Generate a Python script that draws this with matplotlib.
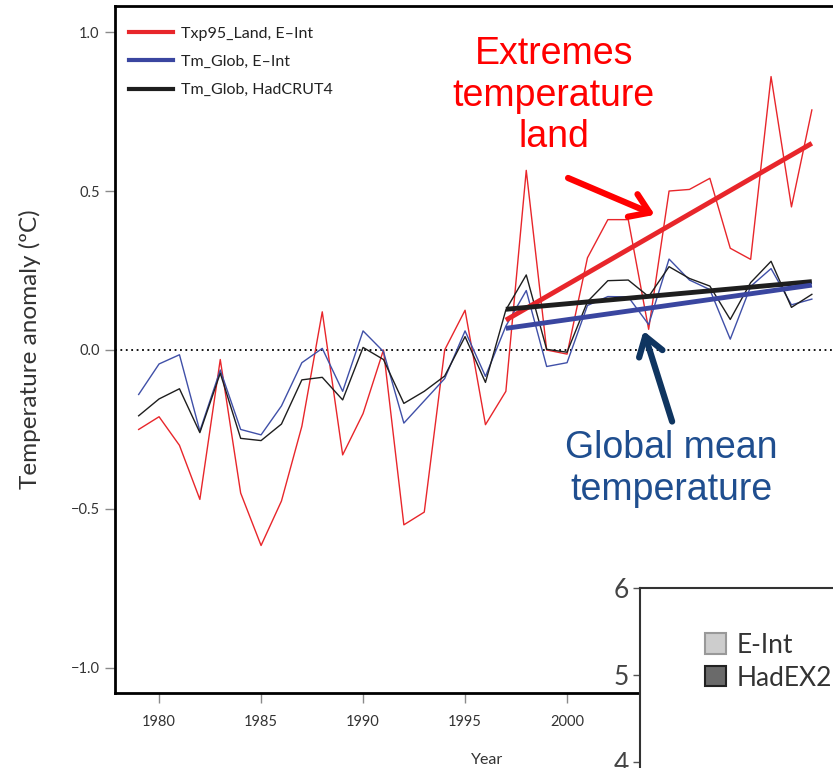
import numpy as np
import matplotlib
matplotlib.use("Agg")
import matplotlib.pyplot as plt
from matplotlib.lines import Line2D
from matplotlib.patches import Patch

# Anomalías de temperatura 1979-2012
years = list(range(1979, 2013))
txp95_land = [-0.25, -0.21, -0.30, -0.47, -0.03, -0.45, -0.615, -0.475, -0.24, 0.12,
              -0.33, -0.20, 0.00, -0.55, -0.51, 0.00, 0.125, -0.235, -0.13, 0.565,
              0.00, -0.013, 0.29, 0.41, 0.41, 0.065, 0.50, 0.505, 0.54, 0.32,
              0.285, 0.86, 0.45, 0.755]
tm_glob_eint = [-0.14, -0.044, -0.015, -0.255, -0.063, -0.25, -0.267, -0.176, -0.04, 0.005,
                -0.13, 0.06, -0.005, -0.23, -0.16, -0.09, 0.06, -0.083, 0.075, 0.187,
                -0.052, -0.04, 0.14, 0.168, 0.167, 0.08, 0.286, 0.22, 0.19, 0.034,
                0.20, 0.256, 0.142, 0.16]
tm_glob_hadcrut4 = [-0.207, -0.154, -0.122, -0.26, -0.073, -0.278, -0.285, -0.233, -0.094, -0.086,
                    -0.157, 0.008, -0.03, -0.168, -0.13, -0.082, 0.042, -0.102, 0.126, 0.236,
                    0.002, -0.007, 0.152, 0.218, 0.22, 0.168, 0.262, 0.225, 0.201, 0.096,
                    0.212, 0.279, 0.134, 0.175]

# Tendencias 1997-2012 (extremos de cada recta)
trend_years = [1997, 2012]
trend_land = [0.094, 0.65]
trend_eint = [0.068, 0.204]
trend_hadcrut = [0.128, 0.215]

legend_labels = ["Txp95_Land, E\u2013Int", "Tm_Glob, E\u2013Int", "Tm_Glob, HadCRUT4"]
inset_labels = ["E-Int", "HadEX2"]
inset_ticks = [4, 5, 6]

RED = "#e8262b"
BLUE = "#4050a8"
BLACK = "#1e1e1e"

plt.rcParams["font.family"] = ["Lato", "DejaVu Sans"]

fig = plt.figure(figsize=(8.33, 7.68), dpi=100)
W, H = 833, 768

def px_axes(left, top, right, bottom):
    return [left / W, 1 - bottom / H, (right - left) / W, (bottom - top) / H]

ax = fig.add_axes(px_axes(115, 6, 860, 693))
ax.plot(years, txp95_land, color=RED, lw=1.0)
ax.plot(years, tm_glob_eint, color=BLUE, lw=1.0)
ax.plot(years, tm_glob_hadcrut4, color=BLACK, lw=1.0)
ax.plot(trend_years, trend_land, color=RED, lw=3.5, solid_capstyle="butt")
ax.plot(trend_years, trend_hadcrut, color=BLACK, lw=3.5, solid_capstyle="butt")
ax.plot(trend_years, trend_eint, color="#3a46a0", lw=3.5, solid_capstyle="butt")
ax.axhline(0, color="black", lw=1.3, ls=(0, (1, 2)), zorder=1)

ax.set_xlim(1977.84, 2014.36)
ax.set_ylim(-1.079, 1.082)
ax.set_xticks(range(1980, 2015, 5))
ax.set_yticks([-1.0, -0.5, 0.0, 0.5, 1.0])
ax.set_yticklabels(["\u22121.0", "\u22120.5", "0.0", "0.5", "1.0"])
ax.tick_params(direction="out", length=7, width=1, color="#8a8a8a",
               labelsize=10.5, labelcolor="#333333", pad=4)
ax.tick_params(axis="x", pad=9)
for s in ax.spines.values():
    s.set_linewidth(2)
    s.set_color("black")
ax.set_xlabel("Year", fontsize=11.5, color="#333333", labelpad=17)
ax.set_ylabel("Temperature anomaly (\u00baC)", fontsize=17.5, color="#333333", labelpad=21)

handles = [Line2D([], [], color=RED, lw=3),
           Line2D([], [], color="#3a46a0", lw=3),
           Line2D([], [], color=BLACK, lw=3)]
ax.legend(handles, legend_labels, loc="upper left", bbox_to_anchor=(0.0, 0.991),
          frameon=False, fontsize=11.5, handlelength=2.7, handletextpad=0.55,
          labelspacing=0.88, labelcolor="#222222")

ax.text(1999.35, 0.80, "Extremes\ntemperature\nland", color="#ff0000",
        fontsize=27, ha="center", va="center", family="Liberation Sans", linespacing=1.2)
ax.annotate("", xy=(2004.3, 0.425), xytext=(2000.05, 0.541),
            arrowprops=dict(arrowstyle="->,head_length=0.6,head_width=0.4",
                            color="#ff0000", lw=4.5, mutation_scale=22, shrinkA=0, shrinkB=0))
ax.text(2005.1, -0.375, "Global mean\ntemperature", color="#1f4e8f",
        fontsize=27, ha="center", va="center", family="Liberation Sans", linespacing=1.2)
ax.annotate("", xy=(2003.75, 0.06), xytext=(2005.15, -0.225),
            arrowprops=dict(arrowstyle="->,head_length=0.6,head_width=0.4",
                            color="#0f3560", lw=4.5, mutation_scale=22, shrinkA=0, shrinkB=0))

# Recuadro inferior derecho (otro gráfico superpuesto)
ins = fig.add_axes(px_axes(640, 588, 900, 849))
ins.set_facecolor("white")
ins.set_zorder(5)
ins.set_ylim(3, 6)
ins.set_xlim(0, 1)
ins.set_yticks(inset_ticks)
ins.set_xticks([])
ins.tick_params(direction="out", length=5, width=1, color="#555555",
                labelsize=19, labelcolor="#444444", pad=3)
for k in ["right", "bottom"]:
    ins.spines[k].set_visible(False)
for k in ["left", "top"]:
    ins.spines[k].set_linewidth(1.5)
    ins.spines[k].set_color("#333333")
ph = [Patch(facecolor="#cdcdcd", edgecolor="#999999", lw=1.5),
      Patch(facecolor="#6a6a6a", edgecolor="#222222", lw=1.5)]
ins.legend(ph, inset_labels, loc="upper left", bbox_to_anchor=(0.16, 0.92),
           frameon=False, fontsize=19, handlelength=0.8, handleheight=0.8,
           handletextpad=0.4, labelspacing=0.3, labelcolor="#333333")

fig.savefig("out.png", dpi=100)
